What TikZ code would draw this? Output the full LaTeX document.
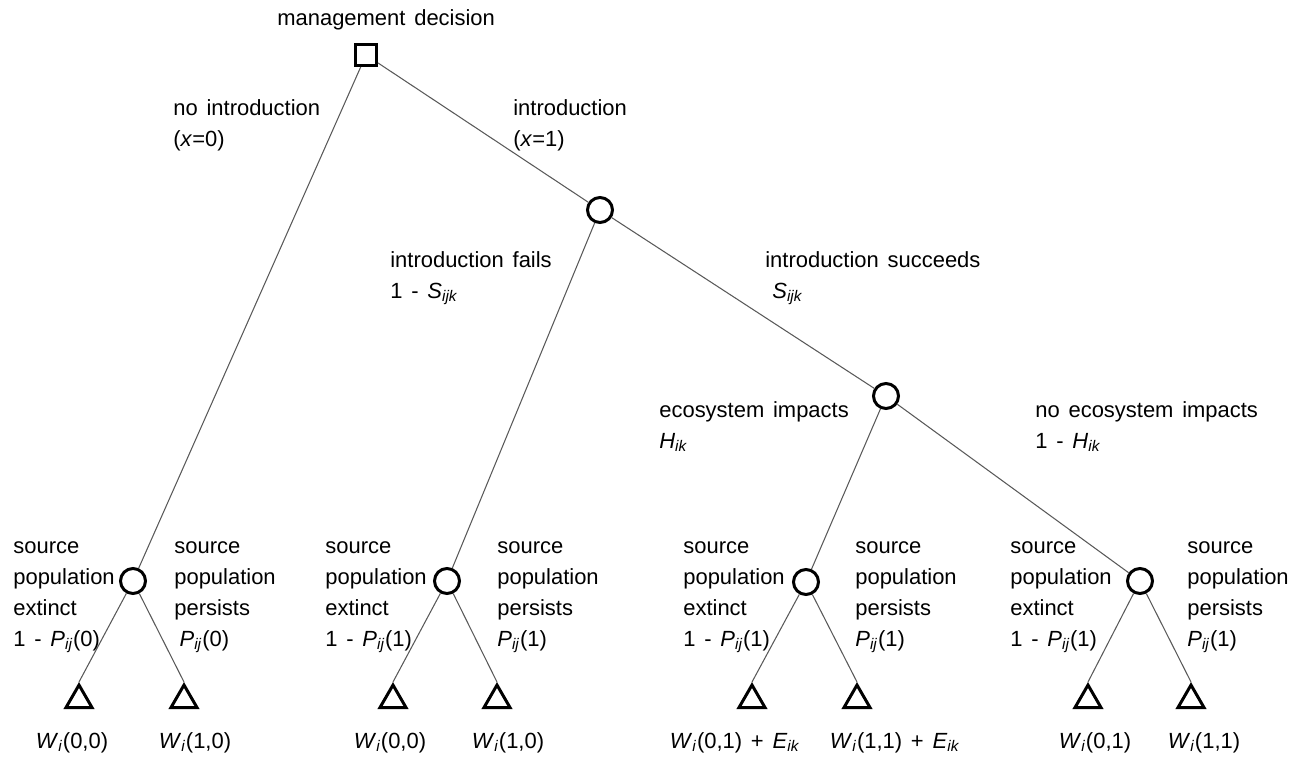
\documentclass[tikz,border=0pt]{standalone}
\usepackage{fontspec}
\setmainfont{Liberation Sans}
\usetikzlibrary{shapes.geometric}

\newcommand{\isub}[2]{\textit{#1}\textsubscript{\textit{#2}}}
\newcommand{\treefont}{\fontsize{12.5}{17.6}\selectfont\spaceskip=5pt\relax}

\begin{document}
\begin{tikzpicture}[
    x=0.02cm, y=-0.02cm,
    % Stili dei nodi
    decision/.style={
        rectangle, draw, line width=1.7pt,
        minimum size=0.42cm, inner sep=0pt
    },
    chance/.style={
        circle, draw, line width=1.7pt,
        minimum size=0.5cm, inner sep=0pt
    },
    outcome/.style={
        regular polygon, regular polygon sides=3, draw, line width=1.7pt,
        minimum size=0.6cm, inner sep=0pt
    },
    branchtext/.style={
        anchor=base west, align=left, inner sep=0pt,
        font=\treefont
    },
    payoff/.style={
        anchor=base, inner sep=0pt, font=\treefont
    },
    branch/.style={line width=0.6pt, black!65}
]
\useasboundingbox (0,0) rectangle (1296,758);

% Decisione e nodi di probabilita
\node[decision] (dec) at (366,55) {};
\node[chance] (cInt) at (600,210) {};
\node[chance] (cSucc) at (886,396) {};
\node[chance] (cNone) at (133,581) {};
\node[chance] (cFail) at (447,581) {};
\node[chance] (cImp) at (806,582) {};
\node[chance] (cNoImp) at (1140,581) {};

% Esiti finali
\node[outcome] (t1) at (79,700) {};
\node[outcome] (t2) at (184,700) {};
\node[outcome] (t3) at (393,700) {};
\node[outcome] (t4) at (497,700) {};
\node[outcome] (t5) at (752,700) {};
\node[outcome] (t6) at (857,700) {};
\node[outcome] (t7) at (1088,700) {};
\node[outcome] (t8) at (1191,700) {};

% Rami
\draw[branch] (dec) -- (cNone);
\draw[branch] (dec) -- (cInt);
\draw[branch] (cInt) -- (cFail);
\draw[branch] (cInt) -- (cSucc);
\draw[branch] (cSucc) -- (cImp);
\draw[branch] (cSucc) -- (cNoImp);
\draw[branch] (cNone) -- (t1.corner 1);
\draw[branch] (cNone) -- (t2.corner 1);
\draw[branch] (cFail) -- (t3.corner 1);
\draw[branch] (cFail) -- (t4.corner 1);
\draw[branch] (cImp) -- (t5.corner 1);
\draw[branch] (cImp) -- (t6.corner 1);
\draw[branch] (cNoImp) -- (t7.corner 1);
\draw[branch] (cNoImp) -- (t8.corner 1);

% Etichette dei rami (base = ultima riga)
\node[branchtext] (txtDec) at (277,25) {management decision};
\node[branchtext] (txtNoInt) at (173,146) {no introduction\\(\textit{x}=0)};
\node[branchtext] (txtInt) at (513,146) {introduction\\(\textit{x}=1)};
\node[branchtext] (txtFail) at (390,298) {introduction fails\\1 - \isub{S}{ijk}};
\node[branchtext] (txtSucc) at (765,298) {introduction succeeds\\\hspace*{4pt}\isub{S}{ijk}};
\node[branchtext] (txtImp) at (659,448) {ecosystem impacts\\\isub{H}{ik}};
\node[branchtext] (txtNoImp) at (1035,448) {no ecosystem impacts\\1 - \isub{H}{ik}};

% Popolazione sorgente
\node[branchtext] (txtExt1) at (13,646) {source\\population\\extinct\\1 - \isub{P}{ij}(0)};
\node[branchtext] (txtPer1) at (174,646) {source\\population\\persists\\\hspace*{3pt}\isub{P}{ij}(0)};
\node[branchtext] (txtExt2) at (325,646) {source\\population\\extinct\\1 - \isub{P}{ij}(1)};
\node[branchtext] (txtPer2) at (497,646) {source\\population\\persists\\\isub{P}{ij}(1)};
\node[branchtext] (txtExt3) at (683,646) {source\\population\\extinct\\1 - \isub{P}{ij}(1)};
\node[branchtext] (txtPer3) at (855,646) {source\\population\\persists\\\isub{P}{ij}(1)};
\node[branchtext] (txtExt4) at (1010,646) {source\\population\\extinct\\1 - \isub{P}{ij}(1)};
\node[branchtext] (txtPer4) at (1187,646) {source\\population\\persists\\\isub{P}{ij}(1)};

% Valori
\node[payoff] (w1) at (72,748) {\isub{W}{i}(0,0)};
\node[payoff] (w2) at (195,748) {\isub{W}{i}(1,0)};
\node[payoff] (w3) at (390,748) {\isub{W}{i}(0,0)};
\node[payoff] (w4) at (508,748) {\isub{W}{i}(1,0)};
\node[payoff] (w5) at (735,748) {\isub{W}{i}(0,1) + \isub{E}{ik}};
\node[payoff] (w6) at (895,748) {\isub{W}{i}(1,1) + \isub{E}{ik}};
\node[payoff] (w7) at (1095,748) {\isub{W}{i}(0,1)};
\node[payoff] (w8) at (1204,748) {\isub{W}{i}(1,1)};

\end{tikzpicture}
\end{document}
